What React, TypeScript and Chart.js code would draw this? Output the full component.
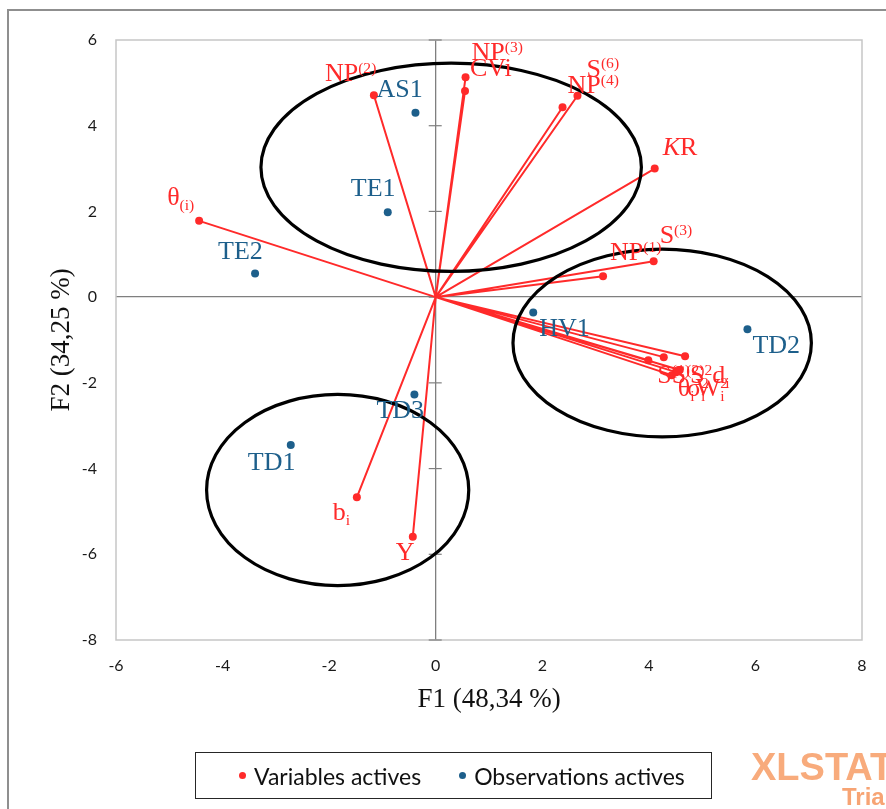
import React, { useEffect, useRef } from "react";
import { Chart, registerables } from "chart.js";

Chart.register(...registerables);

// ---- Data ----
const variableLabels = [
  "NP^{(2)}", "NP^{(3)}", "CVi", "S^{(6)}", "NP^{(4)}", "!{K}R", "θ_{(i)}", "S^{(3)}", "NP^{(1)}",
  "S^{(1)}", "S^{(2)}", "S^{2}d_{i}", "θ_{i}", "σ^{2}_{i}", "W^{2}_{i}", "b_{i}", "Y",
];
const variableF1 = [-1.16, 0.56, 0.55, 2.66, 2.38, 4.11, -4.44, 4.09, 3.14, 3.99, 4.28, 4.68, 4.43, 4.51, 4.58, -1.48, -0.43];
const variableF2 = [4.71, 5.13, 4.81, 4.70, 4.43, 3.0, 1.78, 0.84, 0.49, -1.47, -1.40, -1.38, -1.82, -1.75, -1.70, -4.67, -5.59];

const observationLabels = ["AS1", "TE1", "TE2", "HV1", "TD2", "TD3", "TD1"];
const observationF1 = [-0.38, -0.9, -3.39, 1.83, 5.85, -0.4, -2.72];
const observationF2 = [4.3, 1.98, 0.55, -0.36, -0.75, -2.27, -3.45];

// ellipses drawn around groups (data units)
const ellipseCx = [0.29, 4.25, -1.84];
const ellipseCy = [3.03, -1.07, -4.5];
const ellipseRx = [3.57, 2.8, 2.46];
const ellipseRy = [2.43, 2.19, 2.23];

const xTicksMin = -6;
const xTicksMax = 8;
const yTicksMin = -8;
const yTicksMax = 6;

// ---- Label placement (style, pixels relative to point) ----
const variableLabelDx = [-49, 6, 5, 9, 5, 8, -32, 6, 7, 9, 8, 5, 6, 11, 16, -24, -17];
const variableLabelDy = [-14, -17, -15, -19, -14, -14, -16, -18, -16, 23, 26, 27, 21, 24, 26, 23, 23];
const observationLabelDx = [-39, -37, -37, 6, 5, -38, -43];
const observationLabelDy = [-16, -16, -15, 23, 24, 24, 25];

const RED = "#ff2a2a";
const BLUE = "#1d5f8b";
const LABEL_FONT = "'Liberation Serif', 'Times New Roman', serif";
const LABEL_SIZE = 26;

type Seg = { text: string; kind: "n" | "sup" | "sub" | "it" };
function parseRich(s: string): Seg[] {
  const segs: Seg[] = [];
  let i = 0;
  let buf = "";
  while (i < s.length) {
    const c = s[i];
    if ((c === "^" || c === "_" || c === "!") && s[i + 1] === "{") {
      if (buf) { segs.push({ text: buf, kind: "n" }); buf = ""; }
      const end = s.indexOf("}", i);
      segs.push({ text: s.slice(i + 2, end), kind: c === "^" ? "sup" : c === "_" ? "sub" : "it" });
      i = end + 1;
    } else { buf += c; i++; }
  }
  if (buf) segs.push({ text: buf, kind: "n" });
  return segs;
}

function drawRich(ctx: CanvasRenderingContext2D, s: string, x: number, y: number, size: number, color: string) {
  const segs = parseRich(s);
  ctx.fillStyle = color;
  ctx.textBaseline = "alphabetic";
  ctx.textAlign = "left";
  let cx = x;
  let prevKind = "";
  let prevStart = 0;
  let prevW = 0;
  segs.forEach((seg) => {
    if (seg.kind === "sup" || seg.kind === "sub") {
      const sz = size * 0.6;
      ctx.font = `${sz}px ${LABEL_FONT}`;
      const w = ctx.measureText(seg.text).width;
      const stacked = (prevKind === "sup" && seg.kind === "sub") || (prevKind === "sub" && seg.kind === "sup");
      const sx = stacked ? prevStart : cx;
      const dy = seg.kind === "sup" ? -size * 0.32 : size * 0.2;
      ctx.fillText(seg.text, sx, y + dy);
      cx = stacked ? sx + Math.max(w, prevW) : sx + w;
      prevStart = sx;
      prevW = w;
      prevKind = seg.kind;
    } else {
      ctx.font = `${seg.kind === "it" ? "italic " : ""}${size}px ${LABEL_FONT}`;
      ctx.fillText(seg.text, cx, y);
      cx += ctx.measureText(seg.text).width;
      prevKind = seg.kind;
    }
  });
}

const biplotPlugin = {
  id: "biplot",
  beforeDatasetsDraw(chart: any) {
    const { ctx, chartArea, scales } = chart;
    const { left, top, right, bottom } = chartArea;
    ctx.save();
    ctx.strokeStyle = "#c6c6c6";
    ctx.lineWidth = 1.5;
    ctx.strokeRect(left, top, right - left, bottom - top);
    const x0 = scales.x.getPixelForValue(0);
    ctx.strokeStyle = "#7f7f7f";
    ctx.lineWidth = 1.2;
    scales.y.ticks.forEach((t: any) => {
      const py = scales.y.getPixelForValue(t.value);
      ctx.beginPath();
      ctx.moveTo(x0 - 7, py);
      ctx.lineTo(x0 + 6, py);
      ctx.stroke();
    });
    ctx.restore();
  },
  afterDatasetsDraw(chart: any) {
    const { ctx, scales } = chart;
    const xs = scales.x;
    const ys = scales.y;
    ctx.save();
    ctx.strokeStyle = "#000";
    ctx.lineWidth = 3.2;
    ellipseCx.forEach((cx, i) => {
      const px = xs.getPixelForValue(cx);
      const py = ys.getPixelForValue(ellipseCy[i]);
      const rx = Math.abs(xs.getPixelForValue(cx + ellipseRx[i]) - px);
      const ry = Math.abs(ys.getPixelForValue(ellipseCy[i] + ellipseRy[i]) - py);
      ctx.beginPath();
      ctx.ellipse(px, py, rx, ry, 0, 0, Math.PI * 2);
      ctx.stroke();
    });
    variableLabels.forEach((lab, i) => {
      const px = xs.getPixelForValue(variableF1[i]);
      const py = ys.getPixelForValue(variableF2[i]);
      drawRich(ctx, lab, px + variableLabelDx[i], py + variableLabelDy[i], LABEL_SIZE, RED);
    });
    observationLabels.forEach((lab, i) => {
      const px = xs.getPixelForValue(observationF1[i]);
      const py = ys.getPixelForValue(observationF2[i]);
      drawRich(ctx, lab, px + observationLabelDx[i], py + observationLabelDy[i], LABEL_SIZE, BLUE);
    });
    ctx.restore();
  },
};

export default function App() {
  const canvasRef = useRef<HTMLCanvasElement | null>(null);

  useEffect(() => {
    if (!canvasRef.current) return;
    const vectorData: any[] = [];
    variableF1.forEach((v, i) => {
      vectorData.push({ x: 0, y: 0 }, { x: v, y: variableF2[i] }, { x: null, y: null });
    });
    const obsData = observationF1.map((v, i) => ({ x: v, y: observationF2[i] }));
    const tickFont = { family: "Lato, 'Liberation Sans', sans-serif", size: 16 };
    const chart = new Chart(canvasRef.current, {
      type: "scatter",
      data: {
        datasets: [
          {
            label: "Variables actives",
            data: vectorData,
            showLine: true,
            spanGaps: false,
            borderColor: RED,
            backgroundColor: RED,
            borderWidth: 2,
            pointRadius: (c: any) => (c.dataIndex % 3 === 1 ? 4 : 0),
            pointBorderWidth: 0,
          },
          {
            label: "Observations actives",
            data: obsData,
            showLine: false,
            borderColor: BLUE,
            backgroundColor: BLUE,
            pointRadius: 4,
            pointBorderWidth: 0,
          },
        ],
      },
      options: {
        animation: false,
        responsive: false,
        devicePixelRatio: 1,
        events: [],
        layout: { padding: { left: 0, right: 24, top: 40, bottom: 89 } },
        plugins: { legend: { display: false }, tooltip: { enabled: false } },
        scales: {
          x: {
            type: "linear",
            min: xTicksMin,
            max: xTicksMax,
            afterFit: (s: any) => { s.height = 80; },
            border: { display: false },
            grid: {
              drawTicks: false,
              lineWidth: 1.3,
              color: (c: any) => (c.tick && c.tick.value === 0 ? "#7f7f7f" : "rgba(0,0,0,0)"),
            },
            ticks: { stepSize: 2, padding: 16, color: "#1a1a1a", font: tickFont, maxRotation: 0 },
            title: {
              display: true,
              text: "F1 (48,34 %)",
              color: "#111",
              font: { family: LABEL_FONT, size: 27 },
              padding: { top: 0, bottom: 4 },
            },
          },
          y: {
            type: "linear",
            min: yTicksMin,
            max: yTicksMax,
            afterFit: (s: any) => { s.width = 116; },
            border: { display: false },
            grid: {
              drawTicks: false,
              lineWidth: 1.3,
              color: (c: any) => (c.tick && c.tick.value === 0 ? "#7f7f7f" : "rgba(0,0,0,0)"),
            },
            ticks: { stepSize: 2, padding: 19, color: "#1a1a1a", font: tickFont },
            title: {
              display: true,
              text: "F2 (34,25 %)",
              color: "#111",
              font: { family: LABEL_FONT, size: 27 },
              padding: { top: 46, bottom: 0 },
            },
          },
        },
      },
      plugins: [biplotPlugin],
    } as any);
    return () => chart.destroy();
  }, []);

  const legendFont = "Lato, 'Liberation Sans', sans-serif";
  return (
    <div style={{ position: "fixed", left: 0, top: 0, width: 886, height: 809, overflow: "hidden", background: "#fff" }}>
      <div
        style={{
          position: "absolute", left: 7, top: 9, width: 900, height: 820,
          borderTop: "2px solid #8f8f8f", borderLeft: "2px solid #8f8f8f",
        }}
      />
      <canvas ref={canvasRef} width={886} height={809} style={{ position: "absolute", left: 0, top: 0, display: "block" }} />
      <div
        style={{
          position: "absolute", left: 195, top: 752, width: 515, height: 45,
          border: "1.5px solid #262626", display: "flex", alignItems: "center",
          fontFamily: legendFont, fontSize: 23, color: "#111", boxSizing: "content-box",
        }}
      >
        <span style={{ display: "inline-block", width: 7, height: 7, borderRadius: 4, background: RED, marginLeft: 43, marginRight: 8 }} />
        <span>Variables actives</span>
        <span style={{ display: "inline-block", width: 7, height: 7, borderRadius: 4, background: BLUE, marginLeft: 38, marginRight: 8 }} />
        <span>Observations actives</span>
      </div>
      <div
        style={{
          position: "absolute", left: 751, top: 746, fontFamily: "'Liberation Sans', Arial, sans-serif",
          fontWeight: "bold", fontSize: 38, color: "#f8ab7c", whiteSpace: "nowrap", letterSpacing: 0,
        }}
      >
        XLSTAT
      </div>
      <div
        style={{
          position: "absolute", left: 842, top: 783, fontFamily: "'Liberation Sans', Arial, sans-serif",
          fontWeight: "bold", fontSize: 24, color: "#f7a474", whiteSpace: "nowrap",
        }}
      >
        Trial
      </div>
    </div>
  );
}
